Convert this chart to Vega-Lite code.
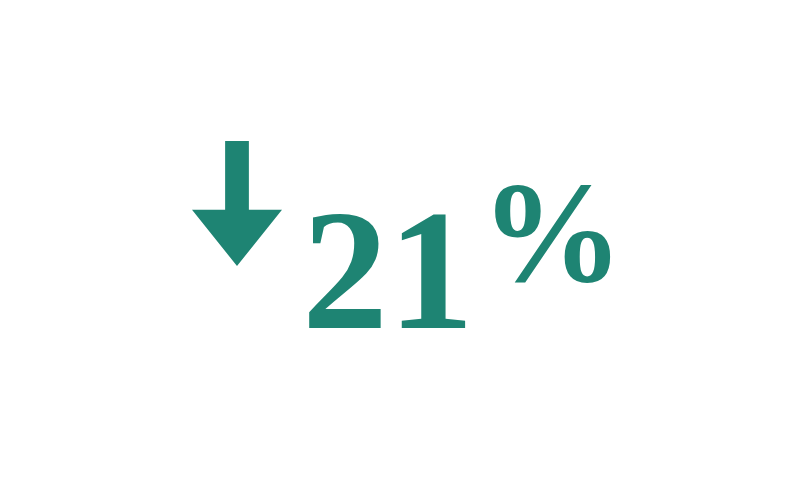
{
  "$schema": "https://vega.github.io/schema/vega-lite/v6.json",
  "width": 800,
  "height": 500,
  "autosize": {"type": "fit", "contains": "padding"},
  "padding": 0,
  "background": "white",
  "config": {"view": {"stroke": null}},
  "datasets": {
    "kpi": [
      {"part": "arrow", "label": "", "x": 237, "y": 203.5},
      {"part": "value", "label": "21", "x": 388, "y": 328},
      {"part": "unit", "label": "%", "x": 552, "y": 281}
    ]
  },
  "data": {"name": "kpi"},
  "encoding": {
    "x": {"field": "x", "type": "quantitative", "scale": {"domain": [0, 800]}, "axis": null},
    "y": {"field": "y", "type": "quantitative", "scale": {"domain": [500, 0]}, "axis": null}
  },
  "layer": [
    {
      "transform": [{"filter": "datum.part == 'arrow'"}],
      "mark": {
        "type": "point",
        "filled": true,
        "opacity": 1,
        "color": "#1e8473",
        "size": 15625,
        "shape": "M-0.19,-1 L0.19,-1 L0.19,0.1 L0.72,0.1 L0,1 L-0.72,0.1 L-0.19,0.1 Z"
      }
    },
    {
      "transform": [{"filter": "datum.part == 'value'"}],
      "mark": {
        "type": "text",
        "font": "Liberation Serif",
        "fontWeight": "bold",
        "fontSize": 172,
        "align": "center",
        "baseline": "alphabetic",
        "color": "#1e8473"
      },
      "encoding": {"text": {"field": "label"}}
    },
    {
      "transform": [{"filter": "datum.part == 'unit'"}],
      "mark": {
        "type": "text",
        "font": "Liberation Serif",
        "fontWeight": "bold",
        "fontSize": 143,
        "align": "center",
        "baseline": "alphabetic",
        "color": "#1e8473"
      },
      "encoding": {"text": {"field": "label"}}
    }
  ]
}
